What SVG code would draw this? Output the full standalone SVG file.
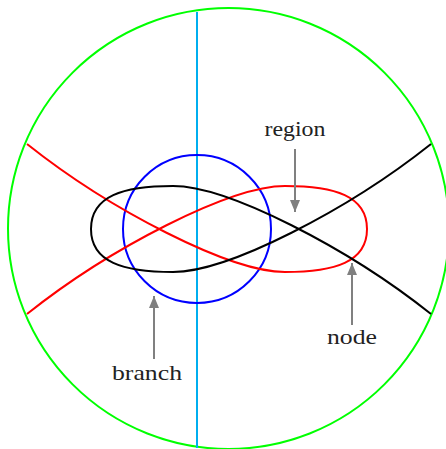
<svg xmlns="http://www.w3.org/2000/svg" width="446" height="449" viewBox="0 0 446 449">
<style>
.c{fill:none;stroke-width:2;stroke-linejoin:round}
.lbl{font-family:"Liberation Serif","Times New Roman",serif;font-size:21px;fill:#222;text-anchor:middle}
.arr{stroke:#808080;stroke-width:2;fill:none;marker-end:url(#ah)}
</style>
<defs>
<marker id="ah" viewBox="0 0 12 10" refX="12" refY="5" markerWidth="12" markerHeight="10" markerUnits="userSpaceOnUse" orient="auto">
<path d="M0,0 L12,5 L0,10 z" fill="#808080"/>
</marker>
</defs>
<rect width="446" height="449" fill="#fff"/>
<g id="outer-circle"><circle class="c" cx="228.5" cy="228.5" r="220.5" stroke="#00ff00"/></g>
<g id="vertical-line"><line class="c" x1="197" y1="12" x2="197" y2="448" stroke="#00aeef"/></g>
<g id="inner-circle"><circle class="c" cx="197" cy="229" r="74" stroke="#0000ff"/></g>
<g id="red-curve"><path class="c" stroke="#ff0000" d="M27,144 C110,210 230,272 285,272 C335,272 367,262 367,229 C367,196 335,186 285,186 C230,186 110,248 27,314"/></g>
<g id="black-curve"><path class="c" stroke="#000" d="M431,144 C348,210 228,272 173,272 C123,272 91,262 91,229 C91,196 123,186 173,186 C228,186 348,248 431,314"/></g>
<g id="label-region"><text class="lbl" x="295" y="136" textLength="61" lengthAdjust="spacingAndGlyphs">region</text></g>
<g id="label-branch"><text class="lbl" x="147" y="380" textLength="70" lengthAdjust="spacingAndGlyphs">branch</text></g>
<g id="label-node"><text class="lbl" x="352" y="344" textLength="50" lengthAdjust="spacingAndGlyphs">node</text></g>
<g id="connectors">
<line class="arr" x1="295" y1="149" x2="295" y2="212"/>
<line class="arr" x1="154" y1="359" x2="154" y2="296"/>
<line class="arr" x1="352" y1="325" x2="352" y2="263"/>
</g>
</svg>
